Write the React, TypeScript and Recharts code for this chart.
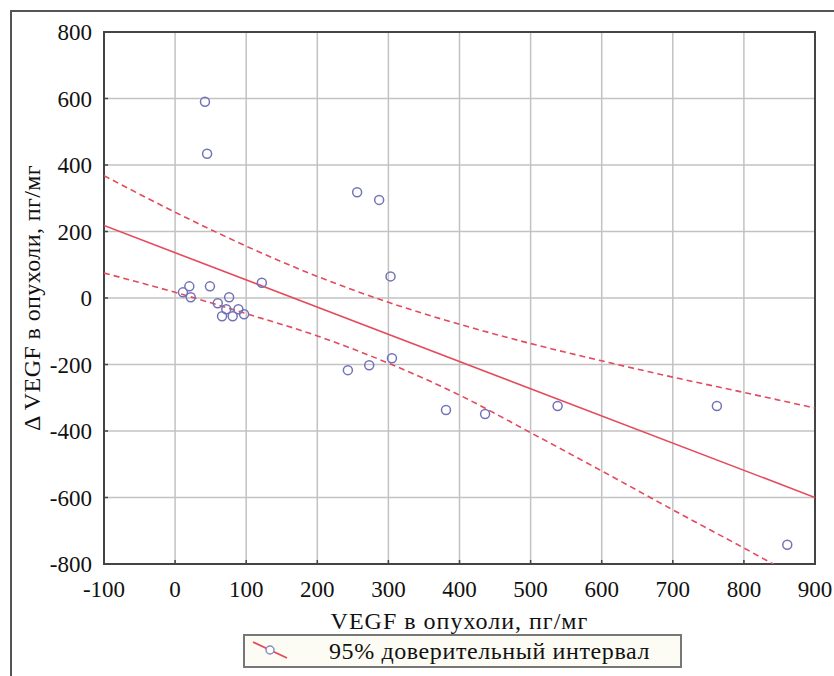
import {
  ComposedChart,
  Scatter,
  Line,
  XAxis,
  YAxis,
  CartesianGrid,
  ReferenceArea,
} from 'recharts';

// measured points (VEGF in tumour vs change of VEGF)
const vegfX = [42, 45, 256, 287, 303, 122, 20, 11, 22, 49, 76, 60, 72, 66, 81, 89, 97, 243, 273, 305, 381, 436, 538, 762, 861];
const deltaY = [590, 434, 318, 295, 65, 46, 35, 17, 2, 35, 2, -16, -34, -55, -55, -34, -49, -217, -202, -181, -337, -349, -325, -325, -742];

// regression line end points
const fitX = [-100, 900];
const fitY = [218, -600];

// 95% confidence band
const bandX = [-100, 0, 100, 200, 300, 400, 500, 600, 700, 800, 900];
const bandUpper = [368, 258, 156, 65, -13, -79, -137, -189, -238, -284, -331];
const bandLower = [75, 17, -47, -114, -196, -292, -405, -520, -637, -752, -869];

const xTicks = [-100, 0, 100, 200, 300, 400, 500, 600, 700, 800, 900];
const yTicks = [-800, -600, -400, -200, 0, 200, 400, 600, 800];

const points = vegfX.map((x, i) => ({ x, y: deltaY[i] }));
const fit = fitX.map((x, i) => ({ x, y: fitY[i] }));
const upper = bandX.map((x, i) => ({ x, y: bandUpper[i] }));
const lower = bandX.map((x, i) => ({ x, y: bandLower[i] }));

const font = 'Liberation Serif';
const red = '#e44a5c';

const Ring = (props: any) => (
  <circle cx={props.cx} cy={props.cy} r={4.5} fill="none" stroke="#7272b8" strokeWidth={1.5} />
);

export default function App() {
  return (
    <div style={{ position: 'absolute', left: 0, top: 0, width: 834, height: 676, background: '#fff', overflow: 'hidden', fontFamily: font }}>
      {/* page frame */}
      <div style={{ position: 'absolute', left: 10, top: 10, width: 900, height: 700, borderLeft: '2px solid #555', borderTop: '2px solid #555' }} />

      <div style={{ position: 'absolute', left: 0, top: 0 }}>
        <ComposedChart width={834} height={676} margin={{ top: 32, right: 19, bottom: 52, left: 0 }} style={{ fontFamily: font }}>
          <CartesianGrid stroke="#c2c2c2" strokeWidth={1.5} />
          <XAxis
            type="number"
            dataKey="x"
            domain={[-100, 900]}
            ticks={xTicks}
            allowDataOverflow
            height={60}
            tickSize={-4}
            tickMargin={21}
            axisLine={false}
            tickLine={{ stroke: '#444', strokeWidth: 1.5 }}
            tick={{ fill: '#111', fontSize: 23, fontFamily: font }}
            label={{ value: 'VEGF в опухоли, пг/мг', position: 'insideBottom', offset: -5, fill: '#111', fontSize: 24, fontFamily: font, letterSpacing: 1 }}
          />
          <YAxis
            type="number"
            dataKey="y"
            domain={[-800, 800]}
            ticks={yTicks}
            allowDataOverflow
            width={104}
            tickSize={-4}
            tickMargin={16}
            axisLine={false}
            tickLine={{ stroke: '#444', strokeWidth: 1.5 }}
            tick={{ fill: '#111', fontSize: 23, fontFamily: font }}
            label={{ value: 'Δ VEGF в опухоли, пг/мг', angle: -90, position: 'insideLeft', offset: 31, fill: '#111', fontSize: 24, fontFamily: font, letterSpacing: 0.4, style: { textAnchor: 'middle' } }}
          />
          <Line data={upper} dataKey="y" type="monotone" stroke={red} strokeWidth={1.6} strokeDasharray="6 4" dot={false} isAnimationActive={false} />
          <Line data={lower} dataKey="y" type="monotone" stroke={red} strokeWidth={1.6} strokeDasharray="6 4" dot={false} isAnimationActive={false} />
          <Line data={fit} dataKey="y" type="linear" stroke={red} strokeWidth={1.6} dot={false} isAnimationActive={false} />
          <Scatter data={points} dataKey="y" shape={Ring} isAnimationActive={false} />
          <ReferenceArea x1={-100} x2={900} y1={-800} y2={800} fill="none" fillOpacity={0} stroke="#444" strokeWidth={2} />
        </ComposedChart>
      </div>

      {/* legend */}
      <div
        style={{
          position: 'absolute',
          left: 243,
          top: 634,
          width: 435,
          height: 30,
          border: '2px solid #777',
          background: '#fdfcf4',
          display: 'flex',
          alignItems: 'center',
          fontSize: 24,
          letterSpacing: 0.6,
          color: '#111',
        }}
      >
        <svg width={50} height={30} style={{ marginLeft: 4, flexShrink: 0 }}>
          <line x1={4} y1={6} x2={38} y2={22} stroke={red} strokeWidth={1.8} />
          <circle cx={21} cy={14} r={4} fill="#fff" stroke="#8a8ac0" strokeWidth={1.5} />
        </svg>
        <span style={{ marginLeft: 30, whiteSpace: 'nowrap' }}>95% доверительный интервал</span>
      </div>
    </div>
  );
}
